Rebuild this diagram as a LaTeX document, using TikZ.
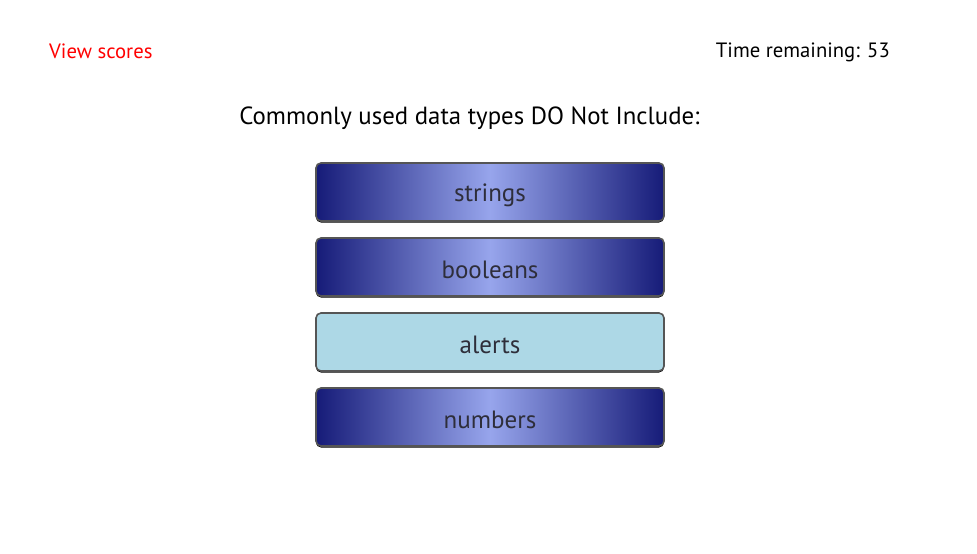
\documentclass[tikz,border=0pt]{standalone}
\usepackage{fontspec}
\setmainfont{PT Sans}
\definecolor{navy}{HTML}{161B78}
\definecolor{lightc}{HTML}{97A5EC}
\definecolor{bordc}{HTML}{555555}
\definecolor{txtc}{HTML}{2E2E3A}
\definecolor{alertc}{HTML}{ADD8E6}
\tikzset{
  btn/.style={rounded corners=5pt, left color=navy, right color=navy, middle color=lightc},
  btnline/.style={draw=bordc, line width=1.6pt, rounded corners=5pt},
  btnshadow/.style={fill=black, rounded corners=5pt},
  btntext/.style={text=txtc, font=\fontsize{25}{28}\selectfont, inner sep=0pt},
  toptext/.style={font=\fontsize{20.7}{24}\selectfont, inner sep=0pt}
}
\begin{document}
\begin{tikzpicture}[x=1pt,y=-1pt]
\useasboundingbox[fill=white] (0,0) rectangle (977,554);
\node[toptext, text=red, anchor=west] (view) at (49,51.5) {View scores};
\node[toptext, anchor=east] (time) at (890,52) {Time remaining: 53};
\node[font=\fontsize{24.8}{28}\selectfont, inner sep=0pt] (title) at (469.5,118.5) {Commonly used data types DO Not Include:};
\foreach \y/\t/\n in {163/strings/b1, 238/booleans/b2, 388/numbers/b4}{
  \fill[btnshadow] (316,\y+1.5) rectangle (664,\y+59.5);
  \shade[btn] (316,\y) rectangle (664,\y+58);
  \draw[btnline] (316,\y) rectangle (664,\y+58);
  \node[btntext] (\n) at (490,\y+32) {\t};
}
\fill[btnshadow] (316,314.5) rectangle (664,372.5);
\fill[alertc, rounded corners=5pt] (316,313) rectangle (664,371);
\draw[btnline] (316,313) rectangle (664,371);
\node[btntext] (b3) at (490,345) {alerts};
\end{tikzpicture}
\end{document}
